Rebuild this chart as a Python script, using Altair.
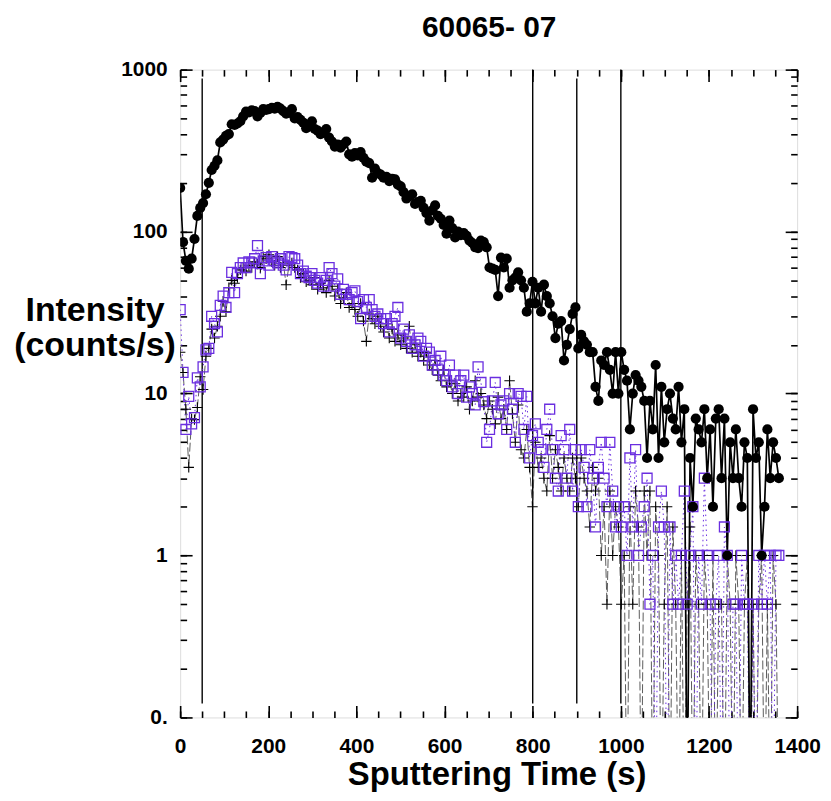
import altair as alt
import pandas as pd

# ---------------- data ----------------
STEP = 6.5  # acquisition cycle (s)

circles = [
    186, 86, 66, 59, 68, 90, 125, 140, 150, 170,
    200, 240, 255, 275, 355, 370, 390, 400, 460, 455,
    465, 480, 515, 550, 545, 560, 555, 515, 540, 570,
    565, 570, 580, 575, 590, 575, 555, 535, 540, 570,
    500, 510, 490, 470, 435, 455, 480, 430, 420, 400,
    410, 430, 380, 360, 335, 345, 330, 345, 360, 300,
    290, 305, 295, 310, 285, 270, 265, 215, 245, 230,
    225, 215, 218, 205, 212, 210, 195, 190, 175, 160,
    165, 170, 148, 152, 155, 140, 130, 117, 135, 145,
    125, 120, 110, 97, 117, 105, 92, 100, 95, 98,
    94, 88, 85, 80, 79, 88, 86, 80, 60, 59,
    58, 40, 69, 60, 68, 45, 50, 52, 56, 50,
    45, 32, 36, 49, 36, 45, 32, 47, 40, 36,
    30, 22, 27, 28, 16, 20, 25, 31, 34, 19,
    23, 21, 20, 18, 18, 11, 9, 16, 15, 18,
    14, 10, 18, 10, 18, 14, 12, 6, 10, 13,
    12, 11, 9, 4, 9, 6, 15, 4, 11, 5,
    8, 10, 7, 6, 11, 5, 8, 0, 4, 2,
    7, 6, 5, 8, 3, 6, 2, 7, 8, 3,
    7, 1, 5, 3, 6, 3, 2, 5, 4, 0,
    8, 4, 5, 1, 2, 6, 3, 5, 4, 3,
]

squares = [
    33, 13.5, 6, 9.6, 6.5, 7.1, 12.5, 11, 14.6, 18.6,
    19, 30, 27, 24, 35, 40, 34, 42, 56, 42,
    55, 60, 64, 60, 65, 64, 68, 82, 55, 66,
    69, 62, 70, 66, 64, 68, 62, 58, 70, 69,
    68, 62, 55, 57, 53, 52, 55, 50, 48, 52,
    46, 50, 60, 55, 46, 51, 41, 44, 41, 38,
    42, 43, 37, 29, 38, 34, 38, 33, 30, 31,
    29, 27, 29, 24, 27, 30, 34, 22, 25, 21,
    23, 19, 20, 22, 21, 17, 19, 18, 15, 16,
    14, 17, 13, 12, 15, 11, 13, 10, 12, 13,
    9.5, 11, 10, 8.5, 14.6, 11.7, 8.9, 5, 6, 9,
    11.7, 7.5, 8.5, 9, 6, 10, 8, 5, 10, 9.6,
    6, 9.6, 4, 5.5, 6.5, 5, 4.5, 3.5, 6, 8,
    4.5, 3, 2.5, 5.5, 4.5, 3, 6, 2.5, 4.5, 2,
    4.5, 3.5, 2, 4.5, 3, 1.5, 3.5, 5, 3, 2,
    5, 2.5, 1.5, 2, 1.5, 2, 1, 4, 1.5, 4.5,
    1, 1.5, 2, 3, 0.5, 1, 0, 1.5, 2.5, 1.5,
    0, 1.5, 0.5, 1, 0.5, 1, 2.5, 0.5, 1, 2,
    0, 1, 0.5, 3, 1, 0.5, 0, 0.5, 1, 0,
    1.5, 1, 0, 0.5, 0.5, 0, 1, 0.5, 0.5, 0,
    0.5, 0, 1, 0.5, 1, 0.5, 1, 0, 1, 1,
]

plus = [
    18, 13.5, 8, 3.5, 7, 6.9, 8.2, 12.7, 10.6, 17,
    19, 25, 22, 26, 30, 37, 32, 45, 50, 48,
    52, 58, 60, 57, 62, 60, 65, 63, 60, 70,
    68, 72, 65, 62, 70, 60, 64, 47, 62, 64,
    60, 58, 52, 55, 49, 50, 47, 52, 44, 48,
    45, 42, 50, 46, 40, 44, 36, 39, 42, 34,
    36, 33, 30, 36, 28, 21, 31, 29, 27, 30,
    26, 24, 27, 22, 25, 21, 23, 20, 22, 19,
    26, 18, 20, 17, 18, 16, 18, 15, 14, 16,
    13, 12, 14, 11, 12, 10, 11.5, 9, 10, 9.5,
    11, 8, 9, 12, 9.5, 10, 8.5, 7, 9, 8,
    6.5, 9.5, 7, 8, 6, 12, 7.5, 5, 8.5, 4.5,
    4, 6, 3.5, 2, 5, 3.5, 4, 3, 2.5, 5.5,
    3, 4.5, 3.5, 2.5, 4, 3, 2.5, 4, 3, 2,
    4, 3, 2.5, 1.5, 3.5, 2.5, 3, 1, 2, 0.5,
    2.5, 1, 2, 1.5, 0.5, 1, 0, 2, 0.5, 2.5,
    1.5, 0, 2.5, 1, 2.5, 0, 2, 1, 0, 0.5,
    2, 0, 1.5, 0.5, 0, 1, 0, 0.5, 1.5, 0,
    1, 0.5, 0, 1, 0.5, 0, 1, 0, 0.5, 0.5,
    0, 1, 0.5, 0, 1, 0.5, 0, 0.5, 1, 0,
    0.5, 0, 0.5, 1, 0, 0.5, 0, 1, 0.5, 0,
]

marker_times = [50, 800, 900, 1000]        # vertical reference lines (s)
marker_top = [880, 1000, 880, 1000]
marker_bottom = [0.122, 0.122, 0.122, 0.122]

x_major = [0, 200, 400, 600, 800, 1000, 1200, 1400]
x_minor = list(range(0, 1401, 50))
y_major = [0.1, 1, 10, 100, 1000]
y_major_labels = ["0.", "1", "10", "100", "1000"]
y_minor = [m * d for d in [0.1, 1, 10, 100] for m in range(1, 10)] + [1000]

CHART_TITLE = "60065- 07"
ZERO_FLOOR = 0.02   # zero counts are drawn below the axis (clipped)

times = [round(i * STEP, 1) for i in range(len(circles))]


def frame(values):
    df = pd.DataFrame({"t": times, "v": values})
    df["vp"] = df["v"].where(df["v"] > 0, ZERO_FLOOR)
    return df


dc, ds, dp = frame(circles), frame(squares), frame(plus)
dm = pd.DataFrame({"t": marker_times, "y1": marker_bottom, "y2": marker_top})

# ---------------- scales & axes ----------------
FONT = "Liberation Sans"
xs = alt.Scale(domain=[0, 1400], nice=False, zero=False)
ys = alt.Scale(type="log", domain=[0.1, 1000], nice=False)

MAJ, MIN = 12, 6.5
label_expr = " : ".join(
    [f"datum.value == {v} ? '{l}'" for v, l in zip(y_major, y_major_labels)] + ["''"]
)

common = dict(grid=False, domain=False, tickColor="black", tickWidth=1.6,
              labelOverlap=False, labelFlush=False)
title_style = dict(titleFont=FONT, titleFontWeight="bold", titleColor="black",
                   titleAngle=0, titleAlign="center")

ax_bottom = alt.Axis(orient="bottom", values=x_major, tickSize=MAJ, offset=-MAJ,
                     labelPadding=18, labelFont=FONT, labelFontSize=21,
                     labelFontWeight="bold", labelColor="black", format="d",
                     title="Sputtering Time (s)", titleFontSize=33, titleX=318,
                     titleY=79, titleBaseline="alphabetic", **title_style, **common)
ax_bottom_min = alt.Axis(orient="bottom", values=x_minor, tickSize=MIN, offset=-MIN,
                         labels=False, title=None, **common)
# the top axis carries the chart title
ax_top = alt.Axis(orient="top", values=x_major, tickSize=MAJ, offset=-MAJ,
                  labels=False, title=CHART_TITLE, titleFontSize=30, titleX=310,
                  titleY=-45, titleBaseline="alphabetic", **title_style, **common)
ax_top_min = alt.Axis(orient="top", values=x_minor, tickSize=MIN, offset=-MIN,
                      labels=False, title=None, **common)

ax_left = alt.Axis(orient="left", values=y_major, tickSize=MAJ, offset=-MAJ,
                   labelPadding=13, labelFont=FONT, labelFontSize=21,
                   labelFontWeight="bold", labelColor="black", labelExpr=label_expr,
                   labelAlign="right", labelBaseline="middle",
                   title=["Intensity", "(counts/s)"], titleFontSize=34,
                   titleBaseline="middle", titleLineHeight=35,
                   titleX=-98, titleY=242, **title_style, **common)
ax_left_min = alt.Axis(orient="left", values=y_minor, tickSize=MIN, offset=-MIN,
                       labels=False, title=None, **common)
ax_right = alt.Axis(orient="right", values=y_major, tickSize=MAJ, offset=-MAJ,
                    labels=False, title=None, **common)
ax_right_min = alt.Axis(orient="right", values=y_minor, tickSize=MIN, offset=-MIN,
                        labels=False, title=None, **common)


def X(axis=None):
    return alt.X("t:Q", scale=xs, axis=axis)


def Y(axis=None):
    return alt.Y("vp:Q", scale=ys, axis=axis)


PURPLE = "#6a2ee0"
PLUS = "M-1,0H1M0,-1V1"

rules = alt.Chart(dm).mark_rule(color="black", strokeWidth=1.4).encode(
    x=X(), y=alt.Y("y1:Q", scale=ys, axis=None), y2="y2:Q")

plus_line = alt.Chart(dp).mark_line(color="#333333", strokeWidth=0.8,
                                    strokeDash=[9, 3], clip=True).encode(x=X(), y=Y())
sq_line = alt.Chart(ds).mark_line(color=PURPLE, strokeWidth=1,
                                  strokeDash=[1.5, 3.5], clip=True).encode(x=X(), y=Y())
c_line = alt.Chart(dc).mark_line(color="black", strokeWidth=1.7, clip=True).encode(
    x=X(ax_bottom), y=Y(ax_left))

plus_pts = alt.Chart(dp).mark_point(shape=PLUS, filled=False, stroke="black",
                                    strokeWidth=1.1, size=110, opacity=1,
                                    clip=True).encode(x=X(ax_bottom_min), y=Y(ax_left_min))
sq_pts = alt.Chart(ds).mark_point(shape="square", filled=False, stroke=PURPLE,
                                  strokeWidth=1.3, size=100, opacity=1,
                                  clip=True).encode(x=X(ax_top), y=Y(ax_right))
c_pts = alt.Chart(dc).mark_circle(color="black", size=105, opacity=1,
                                  clip=True).encode(x=X(ax_top_min), y=Y(ax_right_min))

chart = (
    alt.layer(rules, plus_line, sq_line, c_line, plus_pts, sq_pts, c_pts)
    .resolve_axis(x="independent", y="independent")
    .properties(
        width=620, height=651,
        autosize=alt.AutoSizeParams(type="none"),
        padding={"left": 173, "top": 60, "right": 26, "bottom": 74},
    )
    .configure_view(stroke="black", strokeWidth=2.2)
    .configure(background="white")
)

chart.save("out.html", embed_options={"renderer": "svg", "actions": False})
